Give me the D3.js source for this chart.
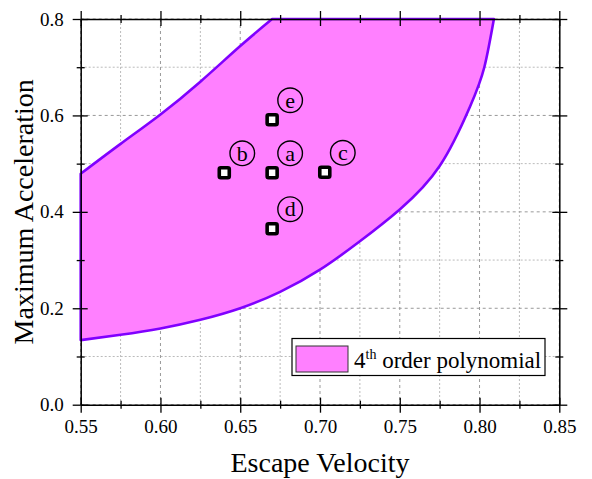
<!DOCTYPE html>
<html>
<head>
<meta charset="utf-8">
<script src="https://cdn.jsdelivr.net/npm/d3@7"></script>
<style>
  body { margin: 0; background: #fff; }
  svg text { font-family: "Liberation Serif", "Times New Roman", "DejaVu Serif", serif; }
</style>
</head>
<body>
<svg id="chart" width="592" height="479"></svg>
<script>

// data
let xMajor = [0.55, 0.60, 0.65, 0.70, 0.75, 0.80, 0.85];
let xMinor = [0.575, 0.625, 0.675, 0.725, 0.775, 0.825];
let yMajor = [0.0, 0.2, 0.4, 0.6, 0.8];
let yMinor = [0.1, 0.3, 0.5, 0.7];

// upper boundary of the feasible region
let upperX = [0.55, 0.575, 0.60, 0.625, 0.65, 0.6700];
let upperY = [0.479, 0.541, 0.602, 0.670, 0.744, 0.80];

// lower / right boundary
let lowerX = [0.55, 0.575, 0.60, 0.625, 0.65, 0.675, 0.70, 0.725, 0.75, 0.775, 0.794, 0.803, 0.809];
let lowerY = [0.134, 0.145, 0.158, 0.176, 0.200, 0.234, 0.280, 0.339, 0.405, 0.495, 0.618, 0.70, 0.80];

// design points
let ptNames = ["a", "b", "c", "d", "e"];
let ptX = [0.670, 0.640, 0.703, 0.670, 0.670];
let ptY = [0.481, 0.481, 0.482, 0.365, 0.591];

let legendLabel = "order polynomial";

let serif = "'Liberation Serif', 'Times New Roman', serif";
let svg = d3.select("#chart");
let position = { left: 80.7, top: 19, right: 559.3, bottom: 404.7 };

let x = d3.scaleLinear().domain([0.55, 0.85]).range([position.left, position.right]);
let y = d3.scaleLinear().domain([0, 0.8]).range([position.bottom, position.top]);

// grid
let grid = svg.append("g");
function gridLines(vals, vertical, col, dash) {
    grid.append("g").selectAll("line").data(vals).enter().append("line")
        .attr("x1", d => vertical ? x(d) : position.left)
        .attr("x2", d => vertical ? x(d) : position.right)
        .attr("y1", d => vertical ? position.top : y(d))
        .attr("y2", d => vertical ? position.bottom : y(d))
        .style("stroke", col).style("stroke-dasharray", dash);
}
gridLines(xMinor, true, "#bbb", "2,2");
gridLines(yMinor, false, "#bbb", "2,2");
gridLines(xMajor, true, "#999", "3,3");
gridLines(yMajor, false, "#999", "3,3");

// region
let upperPts = upperX.map((v, i) => [v, upperY[i]]);
let lowerPts = lowerX.map((v, i) => [v, lowerY[i]]);
let line = d3.line().x(d => x(d[0])).y(d => y(d[1])).curve(d3.curveNatural);

let pathD = line(upperPts) + line(lowerPts.slice().reverse()).replace(/^M/, "L") + "Z";
svg.append("path")
    .attr("d", pathD)
    .style("fill", "#FF80FF")
    .style("stroke", "#8000FF")
    .style("stroke-width", 2.6)
    .style("stroke-linejoin", "round");

// legend
let lg = svg.append("g");
lg.append("rect")
    .attr("x", 292).attr("y", 338.5).attr("width", 253).attr("height", 37)
    .style("fill", "white").style("stroke", "black").style("stroke-width", 1.2);
lg.append("rect")
    .attr("x", 296).attr("y", 346).attr("width", 52).attr("height", 26)
    .style("fill", "#FF80FF").style("stroke", "#333").style("stroke-width", 1);
let lt = lg.append("text").attr("x", 354).attr("y", 367.5)
    .attr("font-family", serif).style("font-size", "23px");
lt.append("tspan").text("4");
lt.append("tspan").attr("dy", -9).style("font-size", "14px").text("th");
lt.append("tspan").attr("dy", 9).text(" " + legendLabel);

// points and labels
let pts = ptNames.map((n, i) => ({ name: n, x: ptX[i], y: ptY[i] }));
let pg = svg.append("g");
pg.selectAll("rect").data(pts).enter().append("rect")
    .attr("x", d => x(d.x) - 5).attr("y", d => y(d.y) - 5)
    .attr("width", 10).attr("height", 10).attr("rx", 1.5)
    .style("fill", "white").style("stroke", "black").style("stroke-width", 3.6);
pg.selectAll("circle").data(pts).enter().append("circle")
    .attr("cx", d => x(d.x) + 18).attr("cy", d => y(d.y) - 19.5).attr("r", 12.3)
    .style("fill", "none").style("stroke", "black").style("stroke-width", 1.4);
pg.selectAll("text").data(pts).enter().append("text")
    .attr("x", d => x(d.x) + 18).attr("y", d => y(d.y) - 19.5)
    .attr("dy", "0.33em").attr("text-anchor", "middle")
    .attr("font-family", serif)
    .style("font-size", "22px").text(d => d.name);

// axes, ticks cross the frame
function drawAxis(axisFn, scale, transform, values, size, labels, fmt) {
    let g = svg.append("g").attr("transform", transform)
        .call(axisFn(scale).tickValues(values).tickSize(size).tickSizeOuter(0)
            .tickFormat(labels ? fmt : ""));
    if (labels !== "frame") g.select(".domain").remove();
    g.select(".domain").style("stroke", "black").style("stroke-width", 1.5);
    g.selectAll(".tick line").style("stroke", "black").style("stroke-width", 1.3);
    g.attr("font-family", serif);
    g.selectAll(".tick text").style("font-size", "19px").style("fill", "black");
    return g;
}
let fx = d3.format(".2f"), fy = d3.format(".1f");
let bT = `translate(0,${position.bottom})`, tT = `translate(0,${position.top})`;
let lT = `translate(${position.left},0)`, rT = `translate(${position.right},0)`;

// frame lines
drawAxis(d3.axisBottom, x, bT, [], 0, "frame");
drawAxis(d3.axisTop, x, tT, [], 0, "frame");
drawAxis(d3.axisLeft, y, lT, [], 0, "frame");
drawAxis(d3.axisRight, y, rT, [], 0, "frame");

let bx = drawAxis(d3.axisBottom, x, bT, xMajor, 8, true, fx);
bx.selectAll(".tick text").attr("dy", "0.95em").attr("y", 10);
drawAxis(d3.axisTop, x, bT, xMajor, 7, false);
drawAxis(d3.axisBottom, x, bT, xMinor, 4, false);
drawAxis(d3.axisTop, x, bT, xMinor, 4, false);

drawAxis(d3.axisTop, x, tT, xMajor, 8, false);
drawAxis(d3.axisBottom, x, tT, xMajor, 7, false);
drawAxis(d3.axisTop, x, tT, xMinor, 4, false);
drawAxis(d3.axisBottom, x, tT, xMinor, 4, false);

let ly = drawAxis(d3.axisLeft, y, lT, yMajor, 8, true, fy);
ly.selectAll(".tick text").attr("x", -17);
drawAxis(d3.axisRight, y, lT, yMajor, 7, false);
drawAxis(d3.axisLeft, y, lT, yMinor, 4, false);
drawAxis(d3.axisRight, y, lT, yMinor, 4, false);

drawAxis(d3.axisRight, y, rT, yMajor, 8, false);
drawAxis(d3.axisLeft, y, rT, yMajor, 7, false);
drawAxis(d3.axisRight, y, rT, yMinor, 4, false);
drawAxis(d3.axisLeft, y, rT, yMinor, 4, false);

// axis titles
svg.append("text")
    .attr("x", (position.left + position.right) / 2).attr("y", 472)
    .attr("text-anchor", "middle").attr("font-family", serif).style("font-size", "28px")
    .text("Escape Velocity");
svg.append("text")
    .attr("transform", `translate(33,${(position.top + position.bottom) / 2}) rotate(-90)`)
    .attr("text-anchor", "middle").attr("font-family", serif).style("font-size", "28px")
    .text("Maximum Acceleration");

</script>
</body>
</html>
